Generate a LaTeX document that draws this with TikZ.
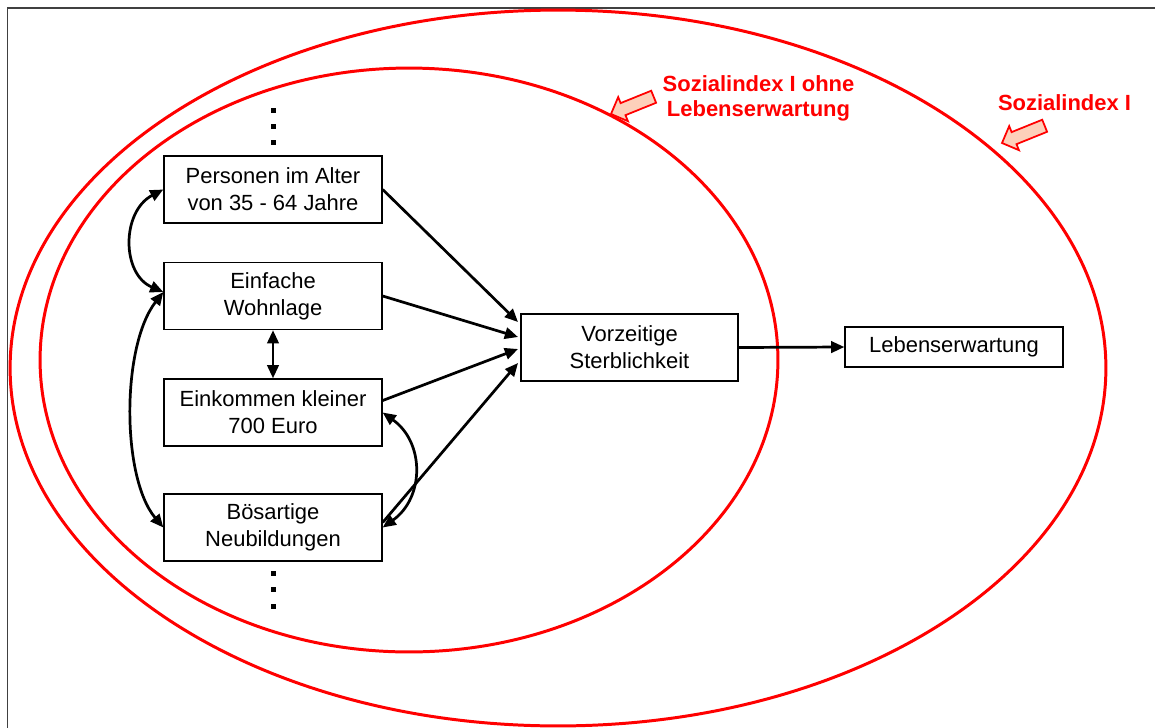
\documentclass[tikz,border=0pt]{standalone}
\usepackage{fontspec}
\setmainfont{Liberation Sans}
\usetikzlibrary{arrows.meta,calc}
\definecolor{peach}{RGB}{253,208,186}
\begin{document}
\begin{tikzpicture}[x=0.02cm,y=-0.02cm,
  box/.style={draw, line width=0.8pt, minimum width=4.36cm, minimum height=1.34cm,
    align=center, inner sep=0pt, font=\fontsize{12.5}{15.3}\selectfont},
  con/.style={line width=1.55pt, -{Triangle[length=7.5pt,width=6.5pt]}},
  dcon/.style={line width=1.55pt, {Triangle[length=7.5pt,width=6.5pt]}-{Triangle[length=7.5pt,width=6.5pt]}},
  ell/.style={draw=red, line width=1.7pt},
  lbl/.style={text=red, font=\bfseries\fontsize{12.5}{14.2}\selectfont, align=center, inner sep=0pt},
  blockarrow/.style={fill=peach, draw=red, line width=1pt, line join=miter}]
\clip (0,0) rectangle (1155,727);
% frame
\draw[line width=1.1pt, black!75] (7.5,8) rectangle (1180,760);
% ellipses
\draw[ell] (558,368) ellipse [x radius=10.96cm, y radius=7.16cm];
\draw[ell] (409,360) ellipse [x radius=7.38cm, y radius=5.84cm];
% labels
\node[lbl] (l1) at (758.5,98) {Sozialindex I ohne\\Lebenserwartung};
\node[lbl] (l2) at (1064.5,103) {Sozialindex I};
% block arrows
\begin{scope}[shift={(611,114)}, rotate=202]
  \draw[blockarrow] (0,0) -- (-13,13) -- (-13,6.5) -- (-46,6.5) -- (-46,-6.5) -- (-13,-6.5) -- (-13,-13) -- cycle;
\end{scope}
\begin{scope}[shift={(1002,143)}, rotate=202]
  \draw[blockarrow] (0,0) -- (-13,13) -- (-13,6.5) -- (-46,6.5) -- (-46,-6.5) -- (-13,-6.5) -- (-13,-13) -- cycle;
\end{scope}
% boxes
\node[box] (pers) at (273,189.5) {Personen im Alter\\von 35 - 64 Jahre};
\node[box] (ein) at (273,296) {Einfache\\Wohnlage};
\node[box] (eink) at (273,412.5) {Einkommen kleiner\\700 Euro};
\node[box] (bos) at (273,527.5) {Bösartige\\Neubildungen};
\node[box, minimum width=4.34cm] (vz) at (629.5,347.5) {Vorzeitige\\Sterblichkeit};
\node[box, minimum height=0.8cm] (leb) at (954,347) {Lebenserwartung};
% dots
\foreach \yy in {110,126,142,573,589,606}
  \fill (270.5,\yy-2.5) rectangle (275.5,\yy+2.5);
% target coordinates
\coordinate (t1) at (518,322);
\coordinate (t2) at (518,337);
\coordinate (t3) at (518,349);
\coordinate (t4) at (518,363);
% straight connectors
\draw[con] (pers.east) -- (t1);
\draw[con] (ein.east) -- (t2);
\draw[con] ($(eink.east)+(0,-12)$) -- (t3);
\draw[con] ($(bos.east)+(0,-5)$) -- (t4);
\draw[con] (vz.east) -- (leb.west);
\draw[dcon] (ein.south) -- (eink.north);
% curved connectors
\draw[dcon] (pers.west) .. controls ($(pers.west)+(-42,22)$) and ($(ein.west)+(-42,-22)$) .. ($(ein.west)+(0,-4)$);
\draw[dcon] ($(ein.west)+(0,-4)$) .. controls ($(ein.west)+(-42,50)$) and ($(bos.west)+(-42,-50)$) .. (bos.west);
\draw[dcon] (eink.east) .. controls ($(eink.east)+(42,30)$) and ($(bos.east)+(42,-30)$) .. (bos.east);
\end{tikzpicture}
\end{document}
